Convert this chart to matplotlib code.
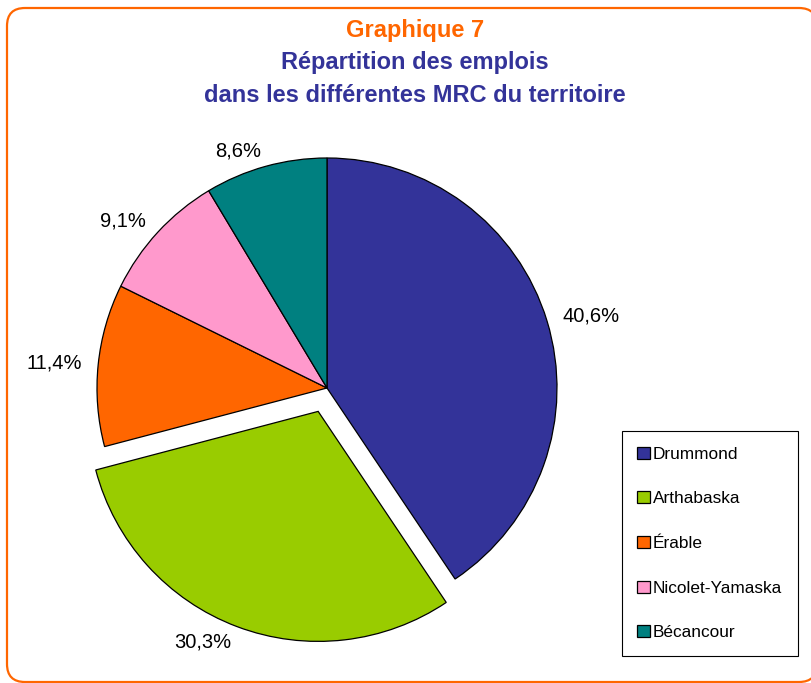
import matplotlib.pyplot as plt
from matplotlib.patches import FancyBboxPatch

plt.rcParams["font.family"] = ["Liberation Sans", "DejaVu Sans"]

mrc = ["Drummond", "Arthabaska", "Érable", "Nicolet-Yamaska", "Bécancour"]
parts = [40.6, 30.3, 11.4, 9.1, 8.6]
colors = ["#333399", "#99CC00", "#FF6600", "#FF99CC", "#008080"]
explode = [0, 25, 0, 0, 0]

W, H = 812, 683
cx, cy = 327, H - 388
fig = plt.figure(figsize=(W / 100, H / 100), dpi=100)
ax = fig.add_axes([0, 0, 1, 1])

# orange rounded frame around the whole chart
frame = FancyBboxPatch((7, 1), 810, H - 9, boxstyle="round,pad=0,rounding_size=18",
                       facecolor="white", edgecolor="#FF6600", linewidth=1.6, zorder=0)
ax.add_patch(frame)

labels = [f"{p:.1f}%".replace(".", ",") for p in parts]
wedges, texts = ax.pie(
    parts, colors=colors, explode=explode, startangle=90, counterclock=False,
    radius=230, center=(cx, cy), labels=labels, labeldistance=1.07,
    wedgeprops=dict(edgecolor="black", linewidth=0.9),
    textprops=dict(fontsize=14.5, color="black"),
)
# pie aligns by absolute x, so re-align relative to the pie centre
for t in texts:
    x, _ = t.get_position()
    t.set_ha("left" if x > cx else "right")

ax.set_xlim(0, W)
ax.set_ylim(0, H)
ax.set_aspect("auto")
ax.axis("off")

fig.text(415 / W, 1 - 30 / H, "Graphique 7", ha="center", va="center",
         fontsize=17, fontweight="bold", color="#FF6600")
fig.text(415 / W, 1 - 63 / H, "Répartition des emplois", ha="center", va="center",
         fontsize=17, fontweight="bold", color="#333399")
fig.text(415 / W, 1 - 96 / H, "dans les différentes MRC du territoire", ha="center",
         va="center", fontsize=17, fontweight="bold", color="#333399")

leg = ax.legend(wedges, mrc, loc="upper left", bbox_to_anchor=(622 / W, 1 - 431 / H),
                bbox_transform=fig.transFigure, fontsize=12.4, fancybox=False,
                edgecolor="black", framealpha=1, labelspacing=1.72,
                handlelength=0.7, handleheight=0.7, handletextpad=0.2,
                borderpad=0.9, borderaxespad=0)
leg.get_frame().set_linewidth(0.8)

fig.savefig("out.png", dpi=100)
